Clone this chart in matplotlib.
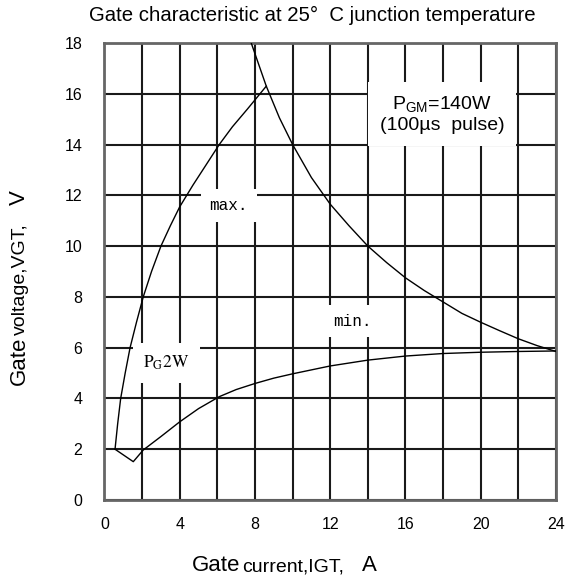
import matplotlib
matplotlib.use('Agg')
import matplotlib.pyplot as plt

plt.rcParams['font.family'] = ['Liberation Sans', 'DejaVu Sans']
plt.rcParams['mathtext.fontset'] = 'custom'
plt.rcParams['mathtext.rm'] = 'Liberation Sans'
plt.rcParams['mathtext.it'] = 'Liberation Sans'

# max. gate characteristic
max_i = [0.56, 0.7, 0.86, 1.1, 1.36, 1.7, 2.06, 2.5, 3.0, 3.5, 4.0, 4.7, 5.4, 6.1, 6.8, 7.6, 8.6]
max_v = [2.0, 3.0, 4.0, 5.0, 6.0, 7.0, 8.0, 9.0, 10.0, 10.8, 11.55, 12.4, 13.2, 14.0, 14.7, 15.4, 16.3]

# min. gate characteristic
min_i = [0.56, 1.53, 2.06, 3.0, 4.0, 5.0, 6.1, 7.0, 8.0, 9.0, 10.0, 12.0, 14.0, 16.0, 18.0, 20.0, 22.0, 24.0]
min_v = [2.0, 1.51, 1.97, 2.5, 3.08, 3.6, 4.07, 4.35, 4.59, 4.8, 4.97, 5.28, 5.51, 5.67, 5.77, 5.82, 5.85, 5.87]

# PGM = 140 W peak gate power limit
pgm_i = [7.8, 8.6, 9.3, 10.0, 11.0, 12.0, 13.0, 14.0, 15.0, 16.0, 17.0, 18.0, 19.0, 20.0, 21.0, 22.0, 23.0, 24.0]
pgm_v = [18.0, 16.3, 15.05, 14.0, 12.7, 11.65, 10.8, 10.0, 9.35, 8.75, 8.25, 7.8, 7.35, 7.0, 6.67, 6.35, 6.08, 5.85]

x_major = [0, 4, 8, 12, 16, 20, 24]
x_minor = list(range(0, 25, 2))
y_ticks = list(range(0, 19, 2))

fig = plt.figure(figsize=(5.71, 5.81), dpi=100)
ax = fig.add_axes([0.183, 0.1394, 0.7907, 0.7866])

ax.set_xlim(0, 24)
ax.set_ylim(0, 18)
ax.set_xticks(x_major)
ax.set_xticks(x_minor, minor=True)
ax.set_yticks(y_ticks)
ax.grid(which='both', color='#1a1a1a', lw=1.5)
ax.set_axisbelow(True)
ax.tick_params(which='both', length=0, labelsize=11.5)
ax.tick_params(axis='x', pad=12)
ax.tick_params(axis='y', pad=16)
for s in ax.spines.values():
    s.set_color('#666666')
    s.set_linewidth(2)

ax.plot(max_i, max_v, color='black', lw=1.0, zorder=4)
ax.plot(min_i, min_v, color='black', lw=1.0, zorder=4)
ax.plot(pgm_i, pgm_v, color='black', lw=1.0, zorder=4)

box = dict(boxstyle='square,pad=0.55', fc='white', ec='none')
ax.text(6.6, 11.6, 'max.', family='Liberation Mono', fontsize=11.5,
        ha='center', va='center', bbox=box, zorder=3)
ax.text(13.2, 7.05, 'min.', family='Liberation Mono', fontsize=11.5,
        ha='center', va='center', bbox=box, zorder=3)
ax.text(3.3, 5.4, r'$\mathrm{P_G2W}$', math_fontfamily='stix', fontsize=12.5,
        ha='center', va='center', bbox=dict(boxstyle='square,pad=0.6', fc='white', ec='none'), zorder=3)
ax.text(17.95, 15.2, 'P$_{\\mathrm{GM}}$=140W\n(100\u00b5s  pulse)', fontsize=14,
        ha='center', va='center', linespacing=1.2,
        bbox=dict(boxstyle='square,pad=0.6', fc='white', ec='none'), zorder=3)

fig.text(0.547, 1 - 15 / 581, 'Gate characteristic at 25\u00b0  C junction temperature',
         fontsize=14.7, ha='center', va='center')


def stack_text(x, y, pieces, rotation=0):
    r = fig.canvas.get_renderer()
    pos = x if rotation == 0 else y
    for txt, size, gap in pieces:
        if rotation == 0:
            t = fig.text(pos, y, txt, fontsize=size, ha='left', va='baseline')
            step = t.get_window_extent(r).width
            pos += (step + gap) / fig.bbox.width
        else:
            t = fig.text(x, pos, txt, fontsize=size, rotation=90, rotation_mode='anchor',
                         ha='left', va='baseline')
            step = t.get_window_extent(r).height
            pos += (step + gap) / fig.bbox.height


stack_text(192 / 571, 1 - 571 / 581, [('Gate', 16, 2), ('current,IGT,', 14, 18), ('A', 16, 0)])
stack_text(25 / 571, 1 - 385 / 581, [('Gate', 16, 2), ('voltage,VGT,', 14, 18), ('V', 16, 0)], rotation=90)

fig.savefig('out.png', dpi=100)
